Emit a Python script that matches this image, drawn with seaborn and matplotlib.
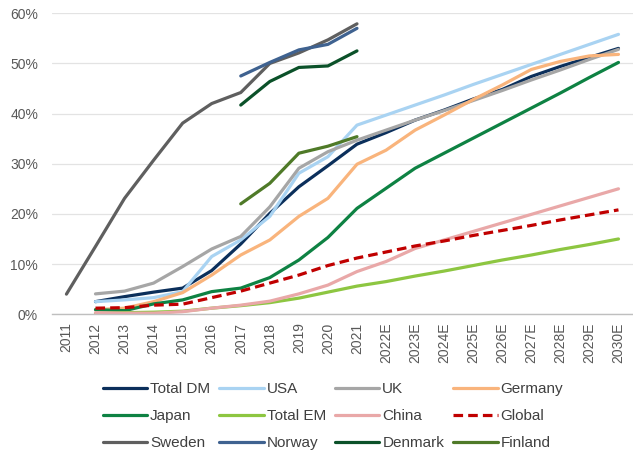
import numpy as np
import pandas as pd
import seaborn as sns
import matplotlib.pyplot as plt
from matplotlib.ticker import PercentFormatter

nan = np.nan

years = ['2011', '2012', '2013', '2014', '2015', '2016', '2017', '2018', '2019', '2020',
         '2021', '2022E', '2023E', '2024E', '2025E', '2026E', '2027E', '2028E', '2029E', '2030E']

total_dm = [nan, 2.5, 3.5, 4.4, 5.2, 8.7, 14.0, 20.1, 25.4, 29.6,
            33.9, 36.2, 38.7, 40.7, 42.9, 44.8, 47.4, 49.4, 51.2, 53.0]
usa = [nan, 2.5, 2.85, 3.3, 4.5, 11.5, 14.8, 19.5, 28.1, 31.4,
       37.7, 39.7, 41.7, 43.7, 45.8, 47.8, 49.8, 51.8, 53.8, 55.8]
uk = [nan, 4.05, 4.6, 6.2, 9.5, 13.0, 15.5, 21.4, 29.1, 32.4,
      34.7, 36.7, 38.7, 40.6, 42.6, 44.6, 46.7, 48.7, 50.8, 52.8]
germany = [nan, 0.9, 1.2, 2.5, 4.3, 7.8, 11.8, 14.8, 19.5, 23.1,
           29.9, 32.7, 36.7, 39.7, 42.8, 45.7, 48.8, 50.4, 51.5, 51.8]
japan = [nan, 0.9, 0.7, 2.05, 2.85, 4.5, 5.2, 7.3, 10.8, 15.3,
         21.1, 25.1, 29.1, 32.1, 35.1, 38.1, 41.1, 44.1, 47.2, 50.2]
total_em = [nan, 0.2, 0.3, 0.4, 0.6, 1.2, 1.7, 2.3, 3.2, 4.4,
            5.6, 6.5, 7.6, 8.6, 9.7, 10.8, 11.8, 12.9, 13.9, 15.0]
china = [nan, 0.3, 0.2, 0.2, 0.5, 1.2, 1.8, 2.6, 4.05, 5.8,
         8.5, 10.5, 13.1, 14.8, 16.5, 18.2, 19.9, 21.6, 23.3, 25.0]
global_ = [nan, 1.2, 1.3, 1.8, 2.0, 3.3, 4.6, 6.2, 7.8, 9.7,
           11.2, 12.4, 13.6, 14.6, 15.7, 16.7, 17.7, 18.8, 19.8, 20.8]
sweden = [4.0, 13.5, 23.1, 30.7, 38.1, 42.0, 44.2, 50.0, 52.1, 54.7,
          57.9, nan, nan, nan, nan, nan, nan, nan, nan, nan]
norway = [nan, nan, nan, nan, nan, nan, 47.5, 50.2, 52.7, 53.8,
          57.0, nan, nan, nan, nan, nan, nan, nan, nan, nan]
denmark = [nan, nan, nan, nan, nan, nan, 41.7, 46.4, 49.2, 49.5,
           52.5, nan, nan, nan, nan, nan, nan, nan, nan, nan]
finland = [nan, nan, nan, nan, nan, nan, 22.0, 26.1, 32.1, 33.5,
           35.4, nan, nan, nan, nan, nan, nan, nan, nan, nan]

series = {
    'Total DM': total_dm, 'USA': usa, 'UK': uk, 'Germany': germany,
    'Japan': japan, 'Total EM': total_em, 'China': china, 'Global': global_,
    'Sweden': sweden, 'Norway': norway, 'Denmark': denmark, 'Finland': finland,
}
colors = {
    'Total DM': '#0B2F5B', 'USA': '#A9D3F2', 'UK': '#A6A6A6', 'Germany': '#F9B47C',
    'Japan': '#0E8243', 'Total EM': '#8DC641', 'China': '#E9A8A8', 'Global': '#C00000',
    'Sweden': '#5F5F5F', 'Norway': '#3F6290', 'Denmark': '#0B5129', 'Finland': '#4F7A28',
}
names = list(series.keys())
dashes = {n: '' for n in names}
dashes['Global'] = (3, 1.6)

rows = []
for name, vals in series.items():
    for yr, v in zip(years, vals):
        rows.append({'year': yr, 'value': v, 'series': name})
df = pd.DataFrame(rows).dropna()
df['year'] = pd.Categorical(df['year'], categories=years, ordered=True)

sns.set_style('white')
plt.rcParams['font.family'] = ['Liberation Sans', 'DejaVu Sans']

fig = plt.figure(figsize=(6.33, 4.58), dpi=100)
ax = fig.add_axes([0.082, 0.314, 0.918, 0.657])

sns.lineplot(data=df, x='year', y='value', hue='series', style='series',
             hue_order=names, style_order=names, palette=colors, dashes=dashes,
             linewidth=2.3, sort=False, ax=ax)

ax.set_ylim(0, 60)
ax.set_xlim(-0.5, len(years) - 0.5)
ax.set_yticks(range(0, 61, 10))
ax.yaxis.set_major_formatter(PercentFormatter(decimals=0))
ax.set_xlabel('')
ax.set_ylabel('')
ax.grid(axis='y', color='#E3E3E3', linewidth=0.9)
ax.set_axisbelow(True)
for s in ['top', 'right', 'left']:
    ax.spines[s].set_visible(False)
ax.spines['bottom'].set_color('#BFBFBF')
ax.spines['bottom'].set_linewidth(1.0)
ax.tick_params(axis='both', length=0, colors='#595959', labelsize=10)
ax.tick_params(axis='x', rotation=90, pad=6)
ax.tick_params(axis='y', pad=10)

# legend fills row by row in the reference, matplotlib fills columns
handles, labels = ax.get_legend_handles_labels()
ax.get_legend().remove()
ncol, nrow = 4, 3
order = [r * ncol + c for c in range(ncol) for r in range(nrow)]
fig.legend([handles[i] for i in order], [labels[i] for i in order],
           loc='upper center', bbox_to_anchor=(0.526, 0.195),
           ncol=ncol, frameon=False, fontsize=11, handlelength=2.9,
           handletextpad=0.2, columnspacing=0.6, labelspacing=0.85,
           labelcolor='#404040')

fig.savefig('out.png', dpi=100)
